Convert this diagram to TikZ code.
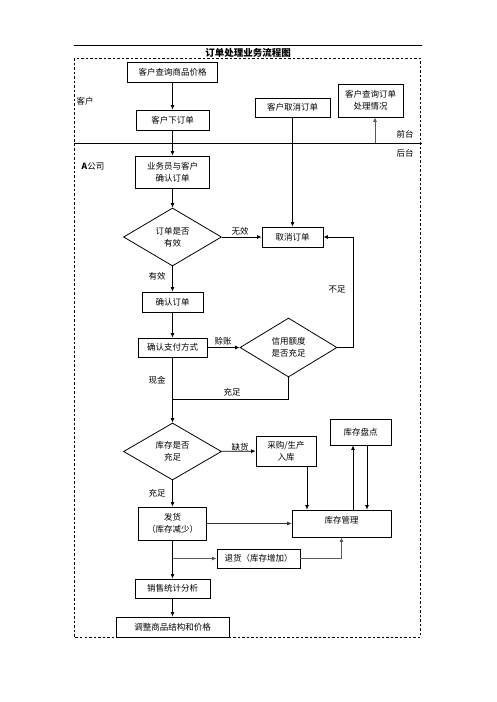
\documentclass[tikz,border=0pt]{standalone}
\usepackage{fontspec}
\setmainfont{Noto Sans CJK SC}
\usetikzlibrary{arrows.meta,shapes.geometric}
\tikzset{
  box/.style={draw,line width=0.8pt,inner sep=0pt,align=center,font=\fontsize{8.5}{12}\selectfont},
  dia/.style={draw,diamond,line width=0.8pt,inner sep=0pt,aspect=1.7,align=center,font=\fontsize{8.5}{12}\selectfont},
  lbl/.style={inner sep=0pt,font=\fontsize{8.5}{10}\selectfont},
  arr/.style={line width=0.8pt,-{Latex[length=4.5pt,width=4pt]}},
  ln/.style={line width=0.8pt},
  garr/.style={arr,draw=black!65,line width=1pt},
}
\begin{document}
\begin{tikzpicture}[x=1pt,y=-1pt]
\useasboundingbox (0,0) rectangle (496,702);
% frame
\draw[line width=0.6pt] (74,45) -- (422,45);
\node[inner sep=0pt,font=\fontsize{9.5}{10}\selectfont\bfseries] (title) at (248,53) {订单处理业务流程图};
\draw[line width=0.7pt,dashed,dash pattern=on 2.5pt off 2pt] (74,58) rectangle (420,637);
\draw[line width=0.7pt] (74,143) -- (422,143);
\node[lbl] (lanec) at (85,101) {客户};
\node[lbl] (lanea) at (93,166) {\textbf{A}公司};
\node[lbl] (front) at (405,134) {前台};
\node[lbl] (back) at (405,153) {后台};
% boxes
\node[box,minimum width=90pt,minimum height=20pt] (q1) at (172.5,72) {客户查询商品价格};
\node[box,minimum width=73pt,minimum height=20pt] (order) at (172.5,120) {客户下订单};
\node[box,minimum width=75pt,minimum height=19pt] (cancelc) at (292.5,107.5) {客户取消订单};
\node[box,minimum width=65pt,minimum height=33pt] (query) at (370.5,100.5) {客户查询订单\\处理情况};
\node[box,minimum width=74pt,minimum height=32pt] (conf1) at (172.5,172) {业务员与客户\\确认订单};
\node[dia,minimum width=98pt,minimum height=58pt] (d1) at (172.5,237) {订单是否\\有效};
\node[box,minimum width=61pt,minimum height=20pt] (cancel) at (292.5,237) {取消订单};
\node[box,minimum width=61pt,minimum height=20pt] (conf2) at (172.5,302) {确认订单};
\node[box,minimum width=69pt,minimum height=19pt] (pay) at (172.5,347.5) {确认支付方式};
\node[dia,minimum width=97pt,minimum height=59pt] (d2) at (288.5,347.5) {信用额度\\是否充足};
\node[dia,minimum width=98pt,minimum height=57pt] (d3) at (172.5,451.5) {库存是否\\充足};
\node[box,minimum width=60pt,minimum height=30pt] (buy) at (286,451) {采购/生产\\入库};
\node[box,minimum width=61pt,minimum height=26pt] (check) at (360.5,432) {库存盘点};
\node[box,minimum width=99pt,minimum height=27pt,text depth=8pt] (inv) at (341.5,523.5) {库存管理};
\node[box,minimum width=68pt,minimum height=33pt] (ship) at (172.5,523.5) {发货\\（库存减少）};
\node[box,minimum width=83pt,minimum height=19pt] (ret) at (258.5,558.5) {退货（库存增加）};
\node[box,minimum width=75pt,minimum height=19pt] (stat) at (172.5,588.5) {销售统计分析};
\node[box,minimum width=113pt,minimum height=20pt] (adj) at (172.5,627) {调整商品结构和价格};
% edge labels
\node[lbl] (l1) at (240,231) {无效};
\node[lbl] (l2) at (157,276) {有效};
\node[lbl] (l3) at (223,341) {赊账};
\node[lbl] (l4) at (337,289) {不足};
\node[lbl] (l5) at (157,380) {现金};
\node[lbl] (l6) at (232,392) {充足};
\node[lbl] (l7) at (240,447) {缺货};
\node[lbl] (l8) at (157,493) {充足};
% connectors
\coordinate (qbase) at (375,143);
\coordinate (credr) at (353,347.5);
\coordinate (okjoin) at (288.5,399);
\coordinate (mainjoin) at (172.5,399);
\coordinate (branch) at (172.5,558.5);
\draw[arr] (q1) -- (order);
\draw[arr] (order) -- (conf1);
\draw[arr] (cancelc) -- (cancel);
\draw[garr] (qbase) -- (qbase |- query.south);
\draw[arr] (conf1) -- (d1);
\draw[arr] (d1) -- (cancel);
\draw[arr] (d1) -- (conf2);
\draw[arr] (conf2) -- (pay);
\draw[arr] (pay) -- (d2);
\draw[arr] (d2.east) -- (credr) |- (cancel.east);
\draw[arr] (pay) -- (d3);
\draw[ln] (d2.south) -- (okjoin) -- (mainjoin);
\draw[arr] (d3) -- (buy);
\draw[arr] (d3) -- (ship);
\draw[arr] ([xshift=21pt]buy.south) -- ([xshift=21pt]buy.south |- inv.north);
\draw[arr] ([xshift=-7.5pt]check.south |- inv.north) -- ([xshift=-7.5pt]check.south);
\draw[arr] ([xshift=6.5pt]check.south) -- ([xshift=6.5pt]check.south |- inv.north);
\draw[arr,draw=black!80] (ship) -- (inv);
\draw[arr] (ship) -- (stat);
\draw[garr] (branch) -- (ret);
\draw[garr] (ret.east) -| (inv.south);
\draw[arr] (stat) -- (adj);
\end{tikzpicture}
\end{document}
